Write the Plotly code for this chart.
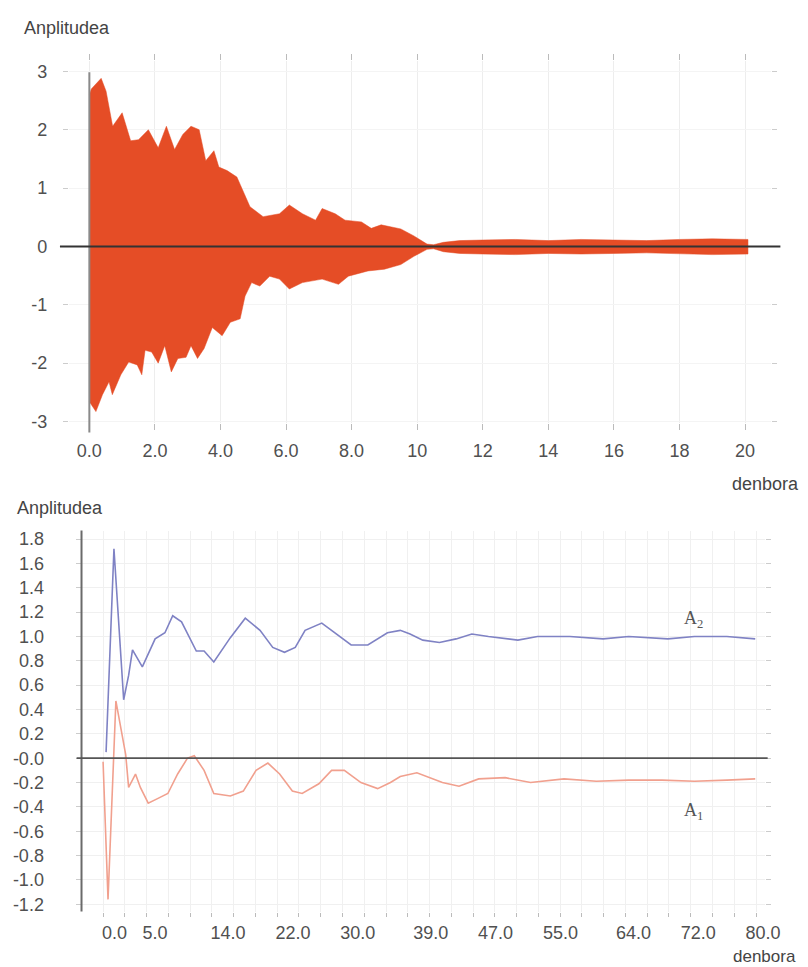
import plotly.graph_objects as go

W, H = 808, 967

# ---------------- top chart data (signal envelope) ----------------
top_x_upper = [0.0, 0.06, 0.36, 0.51, 0.71, 1.0, 1.26, 1.5, 1.8, 2.1, 2.35, 2.6, 2.85, 3.1, 3.35,
               3.55, 3.8, 3.95, 4.2, 4.5, 4.9, 5.3, 5.8, 6.1, 6.5, 6.9, 7.1, 7.5, 7.8, 8.3, 8.6,
               8.9, 9.5, 9.9, 10.3, 10.5, 10.8, 11.3, 12.0, 13.0, 14.0, 15.0, 16.0, 17.0, 18.0,
               19.0, 20.09]
top_y_upper = [2.6, 2.7, 2.88, 2.66, 2.06, 2.29, 1.81, 1.83, 2.0, 1.69, 2.06, 1.66, 1.92, 2.06, 2.0,
               1.47, 1.64, 1.36, 1.3, 1.19, 0.68, 0.51, 0.56, 0.71, 0.56, 0.45, 0.65, 0.56, 0.45, 0.42, 0.31,
               0.37, 0.3, 0.18, 0.04, 0.03, 0.07, 0.1, 0.11, 0.12, 0.1, 0.12, 0.11, 0.1, 0.12,
               0.13, 0.12]
top_x_lower = [0.0, 0.2, 0.4, 0.6, 0.7, 0.96, 1.2, 1.46, 1.6, 1.7, 1.9, 2.1, 2.3, 2.5, 2.7, 2.95,
               3.1, 3.3, 3.5, 3.75, 4.05, 4.3, 4.6, 4.75, 4.95, 5.2, 5.5, 5.8, 6.1, 6.5, 7.1, 7.6,
               7.9, 8.5, 9.0, 9.5, 9.9, 10.3, 10.5, 10.8, 11.3, 12.0, 13.0, 14.0, 15.0, 16.0, 17.0,
               18.0, 19.0, 20.09]
top_y_lower = [-2.66, -2.83, -2.54, -2.32, -2.54, -2.2, -1.98, -2.03, -2.2, -1.78, -1.81, -2.0, -1.7,
               -2.15, -1.92, -1.9, -1.7, -1.92, -1.75, -1.39, -1.53, -1.3, -1.24, -0.85, -0.62, -0.68,
               -0.51, -0.56, -0.73, -0.62, -0.56, -0.65, -0.51, -0.42, -0.39, -0.31, -0.17, -0.05,
               -0.04, -0.09, -0.12, -0.13, -0.14, -0.12, -0.13, -0.12, -0.11, -0.13, -0.14, -0.13]

top_x_ticks = [0, 2, 4, 6, 8, 10, 12, 14, 16, 18, 20]
top_x_ticktext = ["0.0", "2.0", "4.0", "6.0", "8.0", "10", "12", "14", "16", "18", "20"]
top_y_ticks = [-3, -2, -1, 0, 1, 2, 3]
top_y_ticktext = ["-3", "-2", "-1", "0", "1", "2", "3"]

# ---------------- bottom chart data ----------------
a2_x = [-1.05, -0.08, 1.12, 1.73, 2.21, 3.42, 5.0, 6.21, 7.17, 8.26, 10.08, 11.04, 12.24, 14.28,
        16.12, 17.94, 19.51, 20.96, 22.29, 23.5, 25.56, 27.13, 29.18, 31.24, 33.66, 35.24, 36.45,
        38.02, 40.08, 42.13, 44.07, 46.12, 49.75, 52.17, 56.16, 60.27, 63.42, 68.26, 71.53, 75.52,
        79.03]
a2_y = [0.05, 1.72, 0.48, 0.68, 0.89, 0.75, 0.98, 1.03, 1.17, 1.12, 0.88, 0.88, 0.79, 0.99,
        1.15, 1.05, 0.91, 0.87, 0.91, 1.05, 1.11, 1.03, 0.93, 0.93, 1.03, 1.05, 1.02,
        0.97, 0.95, 0.98, 1.02, 1.0, 0.97, 1.0, 1.0, 0.98, 1.0, 0.98, 1.0, 1.0,
        0.98]
a1_x = [-1.42, -0.81, 0.16, 1.37, 1.73, 2.58, 3.18, 4.15, 5.36, 6.57, 7.78, 8.99, 9.83, 11.04,
        12.24, 14.28, 15.88, 17.45, 18.91, 20.36, 21.93, 23.14, 25.2, 26.77, 28.34, 30.39, 32.45,
        34.03, 35.24, 37.29, 40.44, 42.49, 44.91, 48.18, 51.32, 55.44, 59.43, 63.42, 67.53, 71.53,
        75.52, 79.03]
a1_y = [-0.03, -1.16, 0.47, 0.03, -0.24, -0.13, -0.24, -0.37, -0.33, -0.29, -0.13, 0.0, 0.02, -0.1,
        -0.29, -0.31, -0.27, -0.1, -0.04, -0.13, -0.27, -0.29, -0.21, -0.1, -0.1, -0.2, -0.25,
        -0.2, -0.15, -0.12, -0.2, -0.23, -0.17, -0.16, -0.2, -0.17, -0.19, -0.18, -0.18, -0.19,
        -0.18, -0.17]

bot_x_ticks = [0, 5, 14, 22, 30, 39, 47, 55, 64, 72, 80]
bot_x_ticktext = ["0.0", "5.0", "14.0", "22.0", "30.0", "39.0", "47.0", "55.0", "64.0", "72.0", "80.0"]
bot_y_ticks = [1.8, 1.6, 1.4, 1.2, 1.0, 0.8, 0.6, 0.4, 0.2, 0.0, -0.2, -0.4, -0.6, -0.8, -1.0, -1.2]
bot_y_ticktext = ["1.8", "1.6", "1.4", "1.2", "1.0", "0.8", "0.6", "0.4", "0.2", "-0.0", "-0.2",
                  "-0.4", "-0.6", "-0.8", "-1.0", "-1.2"]

ORANGE = "#E54D26"
BLUE = "#7F82C4"
SALMON = "#F1A08E"
TXT = "#505050"
FONT = "Liberation Sans"


def px(x):
    return x / W


def py(y):
    return 1 - y / H


fig = go.Figure()

fig.add_trace(go.Scatter(
    x=top_x_upper + top_x_lower[::-1],
    y=top_y_upper + top_y_lower[::-1],
    fill="toself", fillcolor=ORANGE, mode="lines",
    line=dict(width=0.5, color=ORANGE), xaxis="x", yaxis="y", hoverinfo="skip",
))
fig.add_trace(go.Scatter(x=a2_x, y=a2_y, mode="lines", line=dict(color=BLUE, width=1.6),
                         xaxis="x2", yaxis="y2"))
fig.add_trace(go.Scatter(x=a1_x, y=a1_y, mode="lines", line=dict(color=SALMON, width=1.6),
                         xaxis="x2", yaxis="y2"))

tickfont = dict(family=FONT, size=18, color=TXT)

fig.update_layout(
    width=W, height=H, margin=dict(l=0, r=0, t=0, b=0),
    paper_bgcolor="white", plot_bgcolor="white", showlegend=False,
    xaxis=dict(domain=[px(62), px(778)], range=[-0.628, 20.78], tickmode="array",
               tickvals=top_x_ticks, ticktext=top_x_ticktext, tickfont=tickfont,
               showgrid=True, gridcolor="#ededed", gridwidth=1, zeroline=False,
               ticks="outside", ticklen=6, tickcolor="#bbbbbb", mirror="ticks", showline=False,
               ticklabelstandoff=6, anchor="y"),
    yaxis=dict(domain=[py(418), py(53)], range=[-3.02, 3.17], tickmode="array",
               tickvals=top_y_ticks, ticktext=top_y_ticktext, tickfont=tickfont,
               showgrid=True, gridcolor="#f4f4f4", zeroline=False,
               ticks="outside", ticklen=5, tickcolor="#cccccc", mirror="ticks", showline=False,
               ticklabelstandoff=12, anchor="x"),
    xaxis2=dict(domain=[px(75), px(772)], range=[-4.08, 80.2], tickmode="array",
                tickvals=bot_x_ticks, ticktext=bot_x_ticktext, tickfont=tickfont,
                showgrid=False, zeroline=False, ticks="", showline=False,
                minor=dict(tick0=-1.42, dtick=2.685, ticks="outside", ticklen=4,
                           tickcolor="#bbbbbb", showgrid=True, gridcolor="#f0f0f0"),
                mirror="ticks", ticklabelstandoff=8, anchor="y2"),
    yaxis2=dict(domain=[py(912), py(527)], range=[-1.26, 1.87], tickmode="array",
                tickvals=bot_y_ticks, ticktext=bot_y_ticktext, tickfont=tickfont,
                showgrid=True, gridcolor="#f0f0f0", zeroline=False,
                ticks="outside", ticklen=5, tickcolor="#cccccc", mirror="ticks", showline=False,
                ticklabelstandoff=28, anchor="x2"),
)

shapes = [
    # top chart left axis
    dict(type="line", xref="paper", yref="paper", x0=px(83), x1=px(83), y0=py(64), y1=py(428),
         line=dict(color="#8a8a8a", width=2)),
    # top chart zero line
    dict(type="line", xref="paper", yref="paper", x0=px(53), x1=px(788), y0=py(240), y1=py(240),
         line=dict(color="#333333", width=2)),
    # bottom chart left axis
    dict(type="line", xref="paper", yref="paper", x0=px(75), x1=px(75), y0=py(527), y1=py(912),
         line=dict(color="#6a6a6a", width=2)),
    # bottom chart zero line
    dict(type="line", xref="paper", yref="paper", x0=px(70), x1=px(775), y0=py(757), y1=py(757),
         line=dict(color="#555555", width=1.8)),
]
fig.update_layout(shapes=shapes)

lab = dict(family=FONT, size=18, color="#444444")
lab_small = dict(family=FONT, size=17, color="#444444")
annots = [
    dict(text="Anplitudea", x=px(14), y=py(19), xref="paper", yref="paper", xanchor="left",
         yanchor="middle", showarrow=False, font=lab),
    dict(text="denbora", x=px(737), y=py(480), xref="paper", yref="paper", xanchor="left",
         yanchor="middle", showarrow=False, font=lab),
    dict(text="Anplitudea", x=px(7), y=py(504), xref="paper", yref="paper", xanchor="left",
         yanchor="middle", showarrow=False, font=lab),
    dict(text="denbora", x=px(738), y=py(957), xref="paper", yref="paper", xanchor="left",
         yanchor="middle", showarrow=False, font=lab_small),
    dict(text="A<sub>2</sub>", x=70.0, y=1.14, xref="x2", yref="y2", xanchor="left",
         yanchor="middle", showarrow=False,
         font=dict(family="Liberation Serif", size=18, color="#555555")),
    dict(text="A<sub>1</sub>", x=70.0, y=-0.44, xref="x2", yref="y2", xanchor="left",
         yanchor="middle", showarrow=False,
         font=dict(family="Liberation Serif", size=18, color="#555555")),
]
fig.update_layout(annotations=annots)

fig.write_html("out.html")
